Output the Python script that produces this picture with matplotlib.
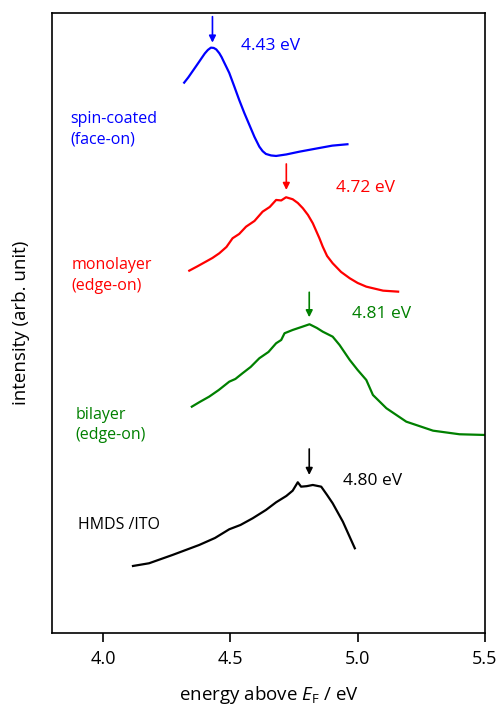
import matplotlib
matplotlib.use('Agg')
import matplotlib.pyplot as plt

plt.rcParams['font.family'] = ['Open Sans', 'DejaVu Sans']
plt.rcParams['mathtext.fontset'] = 'custom'
plt.rcParams['mathtext.it'] = 'Open Sans:italic'
plt.rcParams['mathtext.rm'] = 'Open Sans'

# spin-coated (face-on)
e_spin = [4.319, 4.335, 4.350, 4.365, 4.378, 4.390, 4.400, 4.412, 4.424, 4.435, 4.445,
          4.457, 4.466, 4.475, 4.485, 4.496, 4.515, 4.535, 4.555, 4.575, 4.595, 4.614,
          4.627, 4.640, 4.660, 4.680, 4.720, 4.772, 4.840, 4.900, 4.960]
i_spin = [550.3, 555.5, 561.0, 566.5, 571.3, 575.8, 579.5, 583.0, 585.3, 585.0, 583.5,
          579.7, 575.8, 571.0, 565.8, 560.0, 547.0, 533.0, 520.0, 508.0, 496.0, 486.3,
          481.8, 479.0, 477.5, 477.0, 478.5, 481.3, 484.5, 487.3, 488.7]

# monolayer (edge-on)
e_mono = [4.339, 4.370, 4.404, 4.430, 4.457, 4.485, 4.509, 4.535, 4.562, 4.595, 4.627,
          4.655, 4.680, 4.700, 4.719, 4.745, 4.765, 4.785, 4.805, 4.824, 4.850, 4.863,
          4.880, 4.902, 4.935, 4.969, 5.000, 5.034, 5.100, 5.159]
i_mono = [362.3, 366.5, 371.3, 375.0, 379.7, 386.0, 394.7, 399.0, 406.3, 412.0, 421.3,
          426.0, 433.0, 432.5, 435.7, 433.7, 430.0, 424.7, 418.0, 409.7, 394.7, 386.3,
          377.0, 369.7, 361.0, 354.7, 350.0, 346.3, 342.3, 341.3]

# bilayer (edge-on)
e_bi = [4.349, 4.380, 4.417, 4.455, 4.496, 4.520, 4.548, 4.580, 4.614, 4.650, 4.680,
        4.700, 4.713, 4.745, 4.780, 4.811, 4.840, 4.863, 4.902, 4.929, 4.969, 5.000,
        5.034, 5.060, 5.113, 5.191, 5.296, 5.400, 5.500]
i_bi = [226.3, 231.0, 236.3, 243.0, 251.3, 254.0, 259.7, 266.0, 274.7, 281.0, 289.7,
        293.0, 299.7, 303.0, 306.0, 308.7, 305.0, 301.3, 296.3, 288.0, 273.0, 263.0,
        253.0, 238.0, 224.7, 211.3, 202.3, 198.7, 198.0]

# HMDS/ITO
e_hmds = [4.118, 4.181, 4.273, 4.378, 4.440, 4.496, 4.540, 4.588, 4.640, 4.680, 4.720,
          4.745, 4.765, 4.778, 4.800, 4.824, 4.857, 4.880, 4.902, 4.942, 4.989]
i_hmds = [67.0, 69.7, 78.0, 88.0, 95.0, 103.7, 108.0, 114.7, 123.0, 130.7, 137.0,
          142.3, 150.7, 146.3, 146.8, 148.0, 146.3, 138.0, 129.7, 111.3, 84.7]

names = ['spin-coated\n(face-on)', 'monolayer\n(edge-on)', 'bilayer\n(edge-on)', 'HMDS /ITO']
colors = ['#0000ff', '#ff0000', '#008000', '#000000']
peaks = [4.43, 4.72, 4.81, 4.81]
peak_labels = ['4.43 eV', '4.72 eV', '4.81 eV', '4.80 eV']
arrow_top = [616.3, 469.0, 340.7, 184.0]
arrow_tip = [590.3, 443.0, 315.7, 158.0]
label_pos = [(4.543, 587.3), (4.917, 444.7), (4.976, 319.0), (4.941, 152.0)]
name_pos = [(3.873, 503.7), (3.878, 357.5), (3.892, 208.3), (3.902, 108.0)]

fig = plt.figure(figsize=(4.99, 7.07), dpi=100)
ax = fig.add_axes([0.1042, 0.1047, 0.8677, 0.877])

curves = [(e_spin, i_spin), (e_mono, i_mono), (e_bi, i_bi), (e_hmds, i_hmds)]
for k, (e, i) in enumerate(curves):
    ax.plot(e, i, color=colors[k], lw=1.6)
    ax.annotate('', xy=(peaks[k], arrow_tip[k]), xytext=(peaks[k], arrow_top[k]),
                arrowprops=dict(arrowstyle='-|>', color=colors[k], lw=1.2,
                                mutation_scale=10, shrinkA=0, shrinkB=0))
    ax.text(label_pos[k][0], label_pos[k][1], peak_labels[k], color=colors[k],
            fontsize=12.5, va='center', ha='left')
    ax.text(name_pos[k][0], name_pos[k][1], names[k], color=colors[k],
            fontsize=11.5, va='center', ha='left', linespacing=1.35)

ax.set_xlim(3.8, 5.5)
ax.set_ylim(0, 620)
ax.set_xticks([4.0, 4.5, 5.0, 5.5])
ax.set_xticklabels(['4.0', '4.5', '5.0', '5.5'])
ax.set_yticks([])
ax.tick_params(axis='x', direction='out', length=6.5, width=1.2, labelsize=13, pad=6)
for s in ax.spines.values():
    s.set_linewidth(1.2)

ax.set_xlabel(r'energy above $\mathit{E}_{\mathrm{F}}$ / eV', fontsize=13.5, labelpad=11)
ax.set_ylabel('intensity (arb. unit)', fontsize=13.5, labelpad=16)

fig.savefig('out.png', dpi=100)
